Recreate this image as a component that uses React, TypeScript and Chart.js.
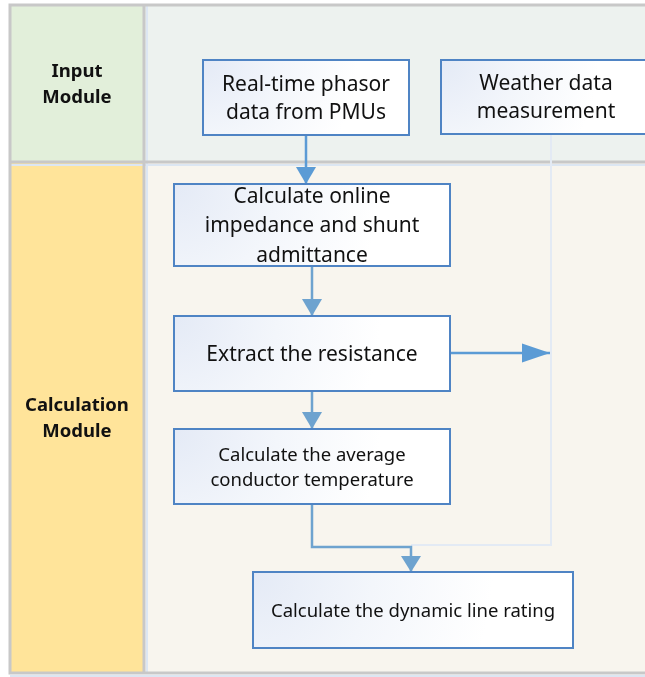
import { useEffect, useRef } from "react";
import { Chart, registerables } from "chart.js";

Chart.register(...registerables);

// ---- Swim lanes ----
const laneLabels = [["Input", "Module"], ["Calculation", "Module"]];
const laneTops = [5, 162];
const laneBottoms = [162, 673];
const laneLabelFills = ["#E2EFDA", "#FFE49A"];
const laneBodyFills = ["#EDF2EF", "#F8F5EE"];

// ---- Process nodes ----
const nodeTexts = [
  ["Real-time phasor", "data from PMUs"],
  ["Weather data", "measurement"],
  ["Calculate online", "impedance and shunt", "admittance"],
  ["Extract the resistance"],
  ["Calculate the average", "conductor temperature"],
  ["Calculate the dynamic line rating"],
];
const nodeLeft = [203, 441, 174, 174, 174, 253];
const nodeRight = [409, 651, 450, 450, 450, 573];
const nodeTop = [60, 60, 184, 316, 429, 572];
const nodeBottom = [135, 134, 266, 391, 504, 648];
const nodeFontSize = [21, 21, 21, 21, 18.5, 18.5];
const nodeLineGap = [28, 28, 29.5, 0, 25, 0];

// ---- Connectors (polylines) ----
const linkPoints: number[][][] = [
  [[306, 135], [306, 184]],
  [[312, 266], [312, 316]],
  [[450, 353], [550, 353]],
  [[312, 391], [312, 429]],
  [[312, 504], [312, 547], [411, 547], [411, 572]],
  [[551, 134], [551, 545], [411, 545]],
];
const linkColors = ["#5B9BD5", "#6EA3CF", "#5B9BD5", "#6EA3CF", "#6EA3CF", "#E3EAF4"];
const linkWidths = [2.5, 2.5, 2.5, 2.5, 2.5, 2];
const linkArrow = [true, true, true, true, true, false];
const linkArrowLen = [17, 17, 28, 17, 16, 0];
const linkArrowHalf = [10, 10, 9.5, 10, 10, 0];

// ---- Frame ----
const frameLeft = 10;
const frameDivider = 144;
const frameRight = 660;

const diagramPlugin = {
  id: "diagram",
  beforeDatasetsDraw(chart: any) {
    const ctx = chart.ctx as CanvasRenderingContext2D;
    const X = (v: number) => chart.scales.x.getPixelForValue(v);
    const Y = (v: number) => chart.scales.y.getPixelForValue(v);
    ctx.save();
    ctx.fillStyle = "#FFFFFF";
    ctx.fillRect(0, 0, chart.width, chart.height);
    laneTops.forEach((t, i) => {
      const b = laneBottoms[i];
      ctx.fillStyle = laneLabelFills[i];
      ctx.fillRect(X(frameLeft), Y(t), X(frameDivider) - X(frameLeft), Y(b) - Y(t));
      ctx.fillStyle = laneBodyFills[i];
      ctx.fillRect(X(frameDivider), Y(t), X(frameRight) - X(frameDivider), Y(b) - Y(t));
    });
    ctx.strokeStyle = "#DCE6F2";
    ctx.lineWidth = 2;
    ctx.beginPath();
    ctx.moveTo(X(frameLeft), Y(laneBottoms[0]) + 3);
    ctx.lineTo(X(frameRight), Y(laneBottoms[0]) + 3);
    ctx.moveTo(X(frameLeft), Y(laneBottoms[1]) + 3);
    ctx.lineTo(X(frameRight), Y(laneBottoms[1]) + 3);
    ctx.moveTo(X(frameDivider) + 3, Y(laneTops[0]));
    ctx.lineTo(X(frameDivider) + 3, Y(laneBottoms[1]));
    ctx.stroke();
    ctx.strokeStyle = "#C8C8C8";
    ctx.lineWidth = 3;
    ctx.strokeRect(X(frameLeft), Y(laneTops[0]), X(frameRight) - X(frameLeft), Y(laneBottoms[1]) - Y(laneTops[0]));
    ctx.beginPath();
    ctx.moveTo(X(frameLeft), Y(laneBottoms[0]));
    ctx.lineTo(X(frameRight), Y(laneBottoms[0]));
    ctx.moveTo(X(frameDivider), Y(laneTops[0]));
    ctx.lineTo(X(frameDivider), Y(laneBottoms[1]));
    ctx.stroke();
    ctx.fillStyle = "#111111";
    ctx.textAlign = "center";
    ctx.textBaseline = "alphabetic";
    ctx.font = 'bold 18.5px "Noto Sans"';
    laneLabels.forEach((lines, i) => {
      const cy = (Y(laneTops[i]) + Y(laneBottoms[i])) / 2;
      const cx = (X(frameLeft) + X(frameDivider)) / 2;
      const gap = 25.5;
      lines.forEach((ln, j) => {
        const y = cy + (j - (lines.length - 1) / 2) * gap + 0.357 * 18.5;
        ctx.fillText(ln, cx, y);
      });
    });
    ctx.restore();
  },
  afterDatasetsDraw(chart: any) {
    const ctx = chart.ctx as CanvasRenderingContext2D;
    const X = (v: number) => chart.scales.x.getPixelForValue(v);
    const Y = (v: number) => chart.scales.y.getPixelForValue(v);
    ctx.save();
    linkPoints.forEach((pts, i) => {
      if (!linkArrow[i]) return;
      const p1 = pts[pts.length - 2];
      const p2 = pts[pts.length - 1];
      const x1 = X(p1[0]), y1 = Y(p1[1]), x2 = X(p2[0]), y2 = Y(p2[1]);
      const len = Math.hypot(x2 - x1, y2 - y1);
      const dx = (x2 - x1) / len, dy = (y2 - y1) / len;
      const L = linkArrowLen[i], H = linkArrowHalf[i];
      const bx = x2 - dx * L, by = y2 - dy * L;
      ctx.fillStyle = linkColors[i];
      ctx.beginPath();
      ctx.moveTo(x2, y2);
      ctx.lineTo(bx - dy * H, by + dx * H);
      ctx.lineTo(bx + dy * H, by - dx * H);
      ctx.closePath();
      ctx.fill();
    });
    nodeTexts.forEach((lines, i) => {
      const l = X(nodeLeft[i]), r = X(nodeRight[i]), t = Y(nodeTop[i]), b = Y(nodeBottom[i]);
      ctx.fillStyle = "#FFFFFF";
      ctx.fillRect(l, t, r - l, b - t);
      const g = ctx.createRadialGradient(l, t, 0, l, t, Math.max(r - l, b - t) * 0.75);
      g.addColorStop(0, "#E4EAF6");
      g.addColorStop(0.5, "#F3F6FB");
      g.addColorStop(1, "#FFFFFF");
      ctx.fillStyle = g;
      ctx.fillRect(l, t, r - l, b - t);
      ctx.strokeStyle = "#4F84C4";
      ctx.lineWidth = 2;
      ctx.strokeRect(l, t, r - l, b - t);
      const fs = nodeFontSize[i];
      ctx.font = `${fs}px "Noto Sans"`;
      ctx.fillStyle = "#111111";
      ctx.textAlign = "center";
      ctx.textBaseline = "alphabetic";
      const cx = (l + r) / 2, cy = (t + b) / 2;
      lines.forEach((ln, j) => {
        const y = cy + (j - (lines.length - 1) / 2) * nodeLineGap[i] + 0.357 * fs;
        ctx.fillText(ln, cx, y);
      });
    });
    ctx.restore();
  },
};

export default function App() {
  const ref = useRef<HTMLCanvasElement>(null);
  useEffect(() => {
    if (!ref.current) return;
    const chart = new Chart(ref.current, {
      type: "scatter",
      data: {
        datasets: linkPoints.map((pts, i) => ({
          data: pts.map(([x, y]) => ({ x, y })),
          showLine: true,
          borderColor: linkColors[i],
          borderWidth: linkWidths[i],
          pointRadius: 0,
          fill: false,
          tension: 0,
          borderCapStyle: "butt",
          borderJoinStyle: "miter",
        })),
      },
      options: {
        animation: false,
        responsive: false,
        devicePixelRatio: 1,
        events: [],
        layout: { padding: 0 },
        plugins: { legend: { display: false }, tooltip: { enabled: false } },
        scales: {
          x: { type: "linear", min: 0, max: 645, display: false },
          y: { type: "linear", min: 0, max: 677, reverse: true, display: false },
        },
      } as any,
      plugins: [diagramPlugin],
    });
    return () => chart.destroy();
  }, []);
  return (
    <div style={{ position: "absolute", left: 0, top: 0, width: 645, height: 677 }}>
      <canvas ref={ref} width={645} height={677} style={{ display: "block" }} />
    </div>
  );
}
